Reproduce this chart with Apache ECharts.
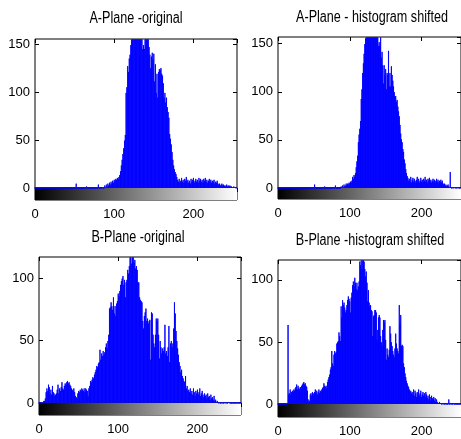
<!DOCTYPE html>
<html><head><meta charset="utf-8">
<script src="https://cdn.jsdelivr.net/npm/echarts@6/dist/echarts.min.js"></script>
<style>html,body{margin:0;padding:0;background:#fff}#c{width:461px;height:439px}</style>
</head><body><div id="c"></div>
<script>
const titles = ['A-Plane -original', 'A-Plane - histogram shifted', 'B-Plane -original', 'B-Plane -histogram shifted'];
const grayLevels = [0, 255];          // x range of histogram / colorbar
const xTickStep = 100;                // x tick labels 0, 100, 200
const yTickStep = 50;                 // y tick labels 0, 50, 100, 150
const yLimits = [156, 157, 117, 116]; // top of each histogram axis

const aPlaneOriginal = [
 0,0,0,0,0,0,0,0,0,0,0,0,0,0,0,0,
 0,0,0,0,0,0,0,0,0,0,0,0,0,0,0,0,
 0,0,0,0,0,0,0,0,0,0,0,0,0,0,0,0,
 0,0,0,0,5,0,0,0,0,0,0,0,0,0,0,0,
 0,2,0,0,0,0,0,0,0,0,0,0,0,0,0,0,
 4,0,0,0,0,1,0,0,3,1,4,2,5,3,6,4,
 7,5,8,6,9,8,10,9,11,10,12,14,18,24,30,36,
 42,50,56,100,106,128,122,136,140,150,156,156,156,156,156,156,
 156,156,156,156,156,156,156,156,146,150,146,156,156,156,156,156,
 148,140,126,138,142,135,141,112,130,100,120,95,122,125,124,126,
 120,118,110,95,100,90,95,85,80,74,57,52,46,38,30,24,
 20,17,15,12,9,7,10,6,8,11,7,9,6,10,8,12,
 7,9,6,8,5,10,7,9,11,6,8,10,7,9,6,11,
 8,10,7,9,6,10,8,11,7,9,6,8,10,7,9,6,
 8,7,9,5,7,6,8,5,4,5,3,4,5,3,4,3,
 2,3,4,2,3,2,3,2,2,1,1,2,1,1,0,1
];
const aPlaneShifted = [
 0,0,0,0,0,0,0,0,0,0,0,0,0,0,0,0,
 0,0,0,0,0,0,0,0,0,0,0,0,0,0,0,0,
 0,0,0,0,0,0,0,0,0,0,0,0,0,0,0,0,
 0,0,0,4,0,0,0,0,0,0,0,0,0,0,0,0,
 0,2,0,0,0,0,0,0,0,0,0,0,0,0,0,0,
 3,0,0,0,0,0,0,0,2,1,3,1,4,2,3,5,
 3,5,4,6,5,7,6,8,12,10,14,12,16,22,28,34,
 48,56,62,70,93,103,120,130,140,150,156,157,157,157,157,157,
 157,157,157,157,157,157,157,157,157,157,157,157,148,152,148,157,
 136,142,128,109,128,118,124,103,120,118,143,106,120,106,127,118,
 112,106,100,96,96,90,92,85,80,75,66,57,51,48,41,38,
 30,26,20,16,13,11,8,10,7,12,6,9,11,7,10,8,
 6,9,12,7,10,6,8,11,7,9,6,10,8,12,7,9,
 6,10,8,11,7,9,6,8,10,7,9,6,8,10,7,9,
 6,8,7,9,6,8,5,4,5,3,4,2,3,4,2,1,
 17,1,0,1,0,1,1,0,1,0,1,0,1,0,0,1
];
const bPlaneOriginal = [
 0,0,0,0,0,0,2,2,4,9,12,10,15,13,8,11,
 7,14,9,8,6,7,8,11,15,8,12,10,13,17,12,11,
 14,16,15,17,18,16,17,15,14,12,11,10,12,9,6,5,
 4,8,10,9,11,10,12,11,10,12,9,12,11,10,6,12,
 14,18,17,19,21,20,23,25,27,30,29,32,33,43,35,40,
 38,42,39,41,45,48,44,50,55,76,77,81,78,75,85,72,
 78,70,80,82,88,86,90,95,98,100,102,95,99,85,97,99,
 107,104,110,117,117,112,117,117,113,115,108,110,107,97,97,85,
 83,82,81,66,60,70,73,76,66,68,64,66,67,35,73,72,
 55,48,45,55,68,66,68,55,36,50,45,40,44,42,45,63,
 40,42,38,45,62,33,48,50,45,48,60,81,72,58,50,44,
 39,33,30,25,27,22,20,18,17,22,12,14,10,11,9,12,
 8,10,7,12,9,6,10,8,11,7,9,12,6,8,10,7,
 5,8,6,7,4,8,5,6,3,7,4,5,3,6,2,3,
 1,2,1,0,1,0,0,1,0,0,1,0,1,0,0,1,
 1,0,0,0,0,0,0,0,0,0,0,0,0,0,0,0
];
const bPlaneShifted = [
 0,0,0,0,0,0,0,0,0,0,0,0,0,0,64,8,
 9,12,8,10,11,10,12,11,13,14,16,12,15,13,12,14,
 13,15,16,17,18,16,17,15,14,11,4,2,3,8,9,7,
 10,8,9,10,12,9,11,8,10,12,9,11,10,12,13,14,
 17,15,14,15,13,18,20,22,24,28,30,43,33,31,40,43,
 41,42,49,50,51,58,55,51,79,70,84,80,82,78,74,76,
 80,84,87,85,83,74,86,90,96,99,95,102,98,93,98,92,
 95,99,115,112,116,109,116,116,115,109,103,107,98,83,92,82,
 79,80,76,75,55,71,72,76,76,74,52,60,70,72,70,55,
 50,47,60,68,66,68,52,36,45,40,38,44,63,57,50,47,
 43,40,38,45,57,49,45,43,41,80,65,72,47,48,47,33,
 30,25,22,19,17,15,14,12,10,11,9,10,8,12,7,11,
 9,6,10,8,12,7,9,11,6,8,10,7,9,6,10,8,
 5,7,4,8,6,3,7,5,4,6,3,5,2,4,2,1,
 1,2,1,1,0,1,0,1,0,0,1,0,0,0,4,0,
 0,1,0,0,0,1,0,0,0,0,0,0,0,0,0,0
];

const seriesData = [aPlaneOriginal, aPlaneShifted, bPlaneOriginal, bPlaneShifted];
const FONT = "'Liberation Sans',Arial,sans-serif";
const layout = [
  {left: 35,  width: 202, top: 39,  h: 149, cb: 12, tx: 136, ty: 18},
  {left: 278, width: 190, top: 37,  h: 151, cb: 11, tx: 372, ty: 17.5},
  {left: 39,  width: 202, top: 257, h: 146, cb: 12, tx: 138, ty: 237},
  {left: 278, width: 190, top: 260, h: 144, cb: 13, tx: 370, ty: 240}
];

const grid = [], xAxis = [], yAxis = [], series = [], graphic = [];
const noAxis = () => ({show: true, axisLine: {show: false, onZero: false}, axisTick: {show: false}, axisLabel: {show: false}, splitLine: {show: false}});
const tick = () => ({show: true, inside: true, length: 4, lineStyle: {color: '#000', width: 1}});
const label = (m) => ({show: true, margin: m, showMaxLabel: false, fontFamily: FONT, fontSize: 13, color: '#000'});
layout.forEach((L, k) => {
  const gH = 2 * k, gC = 2 * k + 1;
  grid.push({left: L.left, top: L.top, width: L.width, height: L.h, show: true, borderColor: '#000', borderWidth: 1, backgroundColor: 'transparent'});
  grid.push({left: L.left, top: L.top + L.h, width: L.width, height: L.cb, show: true, borderColor: '#000', borderWidth: 1, backgroundColor: 'transparent'});
  graphic.push({type: 'text', x: L.tx, y: L.ty, scaleY: 1.3, z: 10,
    style: {text: titles[k], fontFamily: FONT, fontSize: 12.6, fill: '#000', textAlign: 'center', textVerticalAlign: 'middle'}});
  const xBase = () => ({type: 'value', min: grayLevels[0], max: grayLevels[1], interval: xTickStep});
  xAxis.push(Object.assign(xBase(), noAxis(), {gridIndex: gH, position: 'bottom'}));                                 // 4k   data
  xAxis.push(Object.assign(xBase(), noAxis(), {gridIndex: gH, position: 'top', axisTick: tick()}));                 // 4k+1 top ticks
  xAxis.push(Object.assign(xBase(), noAxis(), {gridIndex: gC, position: 'bottom', axisTick: tick(), axisLabel: label(8)})); // 4k+2 labels
  xAxis.push(Object.assign(xBase(), noAxis(), {gridIndex: gC, position: 'top', axisTick: tick()}));                 // 4k+3 cb top ticks
  const yBase = () => ({type: 'value', min: 0, max: yLimits[k], interval: yTickStep});
  yAxis.push(Object.assign(yBase(), noAxis(), {gridIndex: gH, position: 'left', axisTick: tick(), axisLabel: label(5)})); // 3k
  yAxis.push(Object.assign(yBase(), noAxis(), {gridIndex: gH, position: 'right', axisTick: tick()}));              // 3k+1
  yAxis.push(Object.assign({type: 'value', min: 0, max: 1}, noAxis(), {gridIndex: gC}));                            // 3k+2
  series.push({
    type: 'bar', xAxisIndex: 4 * k, yAxisIndex: 3 * k,
    data: seriesData[k].map((v, i) => [i, v]),
    barWidth: '100%', barGap: '0%',
    itemStyle: {color: '#0000ff', borderColor: '#0000ff', borderWidth: 0.9},
    silent: true
  });
  series.push({
    type: 'custom', xAxisIndex: 4 * k + 2, yAxisIndex: 3 * k + 2,
    data: [[grayLevels[0], 0]],
    renderItem: (params, api) => {
      const p0 = api.coord([grayLevels[0], 0]);
      const p1 = api.coord([grayLevels[1], 1]);
      return {type: 'rect', shape: {x: p0[0], y: p1[1], width: p1[0] - p0[0], height: p0[1] - p1[1]},
        style: {fill: new echarts.graphic.LinearGradient(0, 0, 1, 0, [{offset: 0, color: '#000'}, {offset: 1, color: '#fff'}])}};
    },
    silent: true
  });
});

const chart = echarts.init(document.getElementById('c'), null, {renderer: 'canvas'});
chart.setOption({animation: false, backgroundColor: '#fff', graphic, grid, xAxis, yAxis, series});
</script></body></html>
